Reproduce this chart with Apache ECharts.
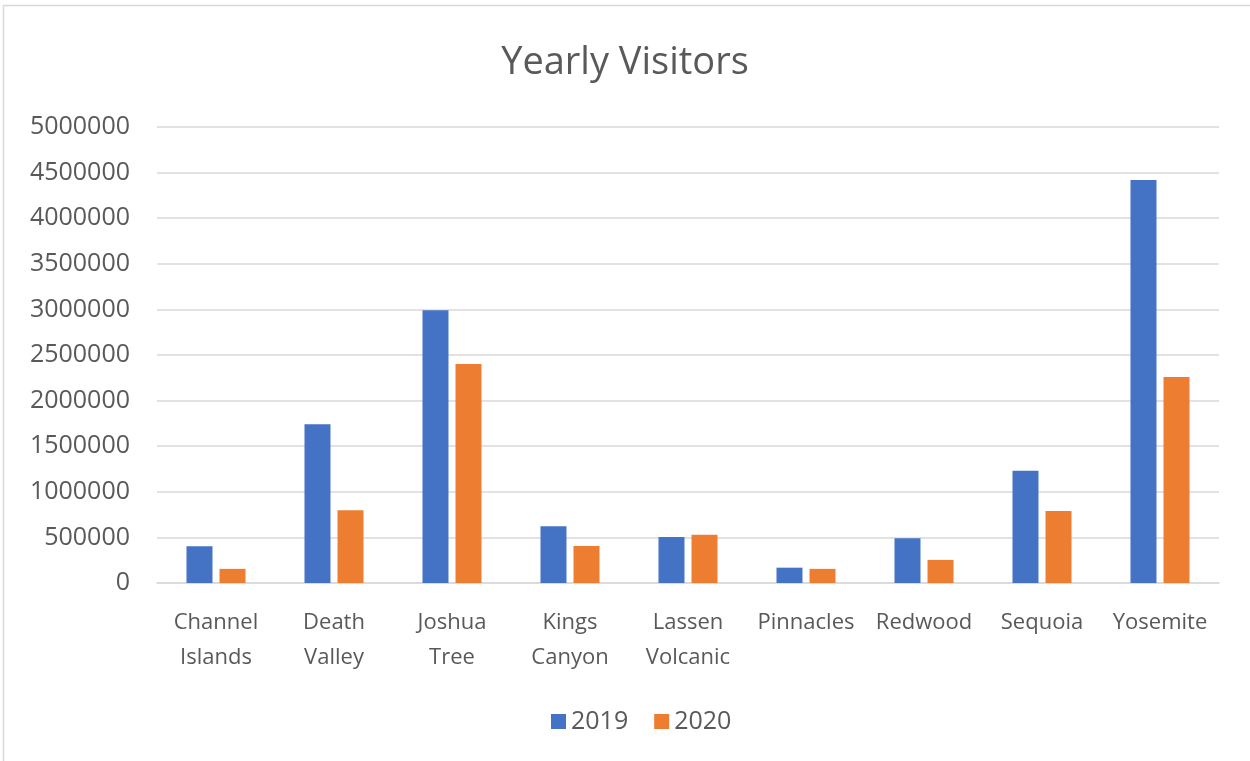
<!DOCTYPE html>
<html>
<head>
<meta charset="utf-8">
<script src="https://cdn.jsdelivr.net/npm/echarts@6/dist/echarts.min.js"></script>
<style>
html,body{margin:0;padding:0;background:#fff;}
#chart{width:1250px;height:761px;}
</style>
</head>
<body>
<div id="chart"></div>
<script>
const categories = ['Channel\nIslands','Death\nValley','Joshua\nTree','Kings\nCanyon','Lassen\nVolcanic','Pinnacles','Redwood','Sequoia','Yosemite'];
const visitors2019 = [402000, 1740000, 2990000, 623000, 505000, 168000, 490000, 1232000, 4420000];
const visitors2020 = [155000, 798000, 2400000, 406000, 530000, 155000, 253000, 790000, 2260000];
const seriesNames = ['2019', '2020'];

const chart = echarts.init(document.getElementById('chart'));
const textColor = '#595959';
const font = '"Open Sans", sans-serif';
chart.setOption({
  animation: false,
  backgroundColor: '#ffffff',
  title: {
    text: 'Yearly Visitors',
    left: 'center',
    top: 39,
    textStyle: { fontFamily: font, fontSize: 38, fontWeight: 'normal', color: textColor }
  },
  legend: {
    data: seriesNames,
    bottom: 22,
    left: 546,
    icon: 'rect',
    itemWidth: 15,
    itemHeight: 15,
    itemGap: 26,
    textStyle: { fontFamily: font, fontSize: 25, color: textColor }
  },
  graphic: [{
    type: 'rect',
    shape: { x: 3.5, y: 5.5, width: 1300, height: 800 },
    style: { fill: 'none', stroke: '#d9d9d9', lineWidth: 1.5 },
    silent: true
  }],
  grid: { left: 157, right: 31, top: 127, bottom: 178, containLabel: false },
  xAxis: {
    type: 'category',
    data: categories,
    axisTick: { show: false },
    axisLine: { lineStyle: { color: '#d9d9d9', width: 1.5 } },
    axisLabel: { fontFamily: font, fontSize: 22, color: textColor, lineHeight: 35, margin: 22, interval: 0 }
  },
  yAxis: {
    type: 'value',
    min: 0,
    max: 5000000,
    interval: 500000,
    axisLine: { show: false },
    axisTick: { show: false },
    splitLine: { lineStyle: { color: '#d9d9d9', width: 1.5 } },
    axisLabel: { fontFamily: font, fontSize: 25, color: textColor, margin: 27,
      formatter: function (v) { return String(v); } }
  },
  series: [
    { name: seriesNames[0], type: 'bar', data: visitors2019, barWidth: 26, barGap: '27%',
      itemStyle: { color: '#4472C4' } },
    { name: seriesNames[1], type: 'bar', data: visitors2020, barWidth: 26, barGap: '27%',
      itemStyle: { color: '#ED7D31' } }
  ]
});
</script>
</body>
</html>
